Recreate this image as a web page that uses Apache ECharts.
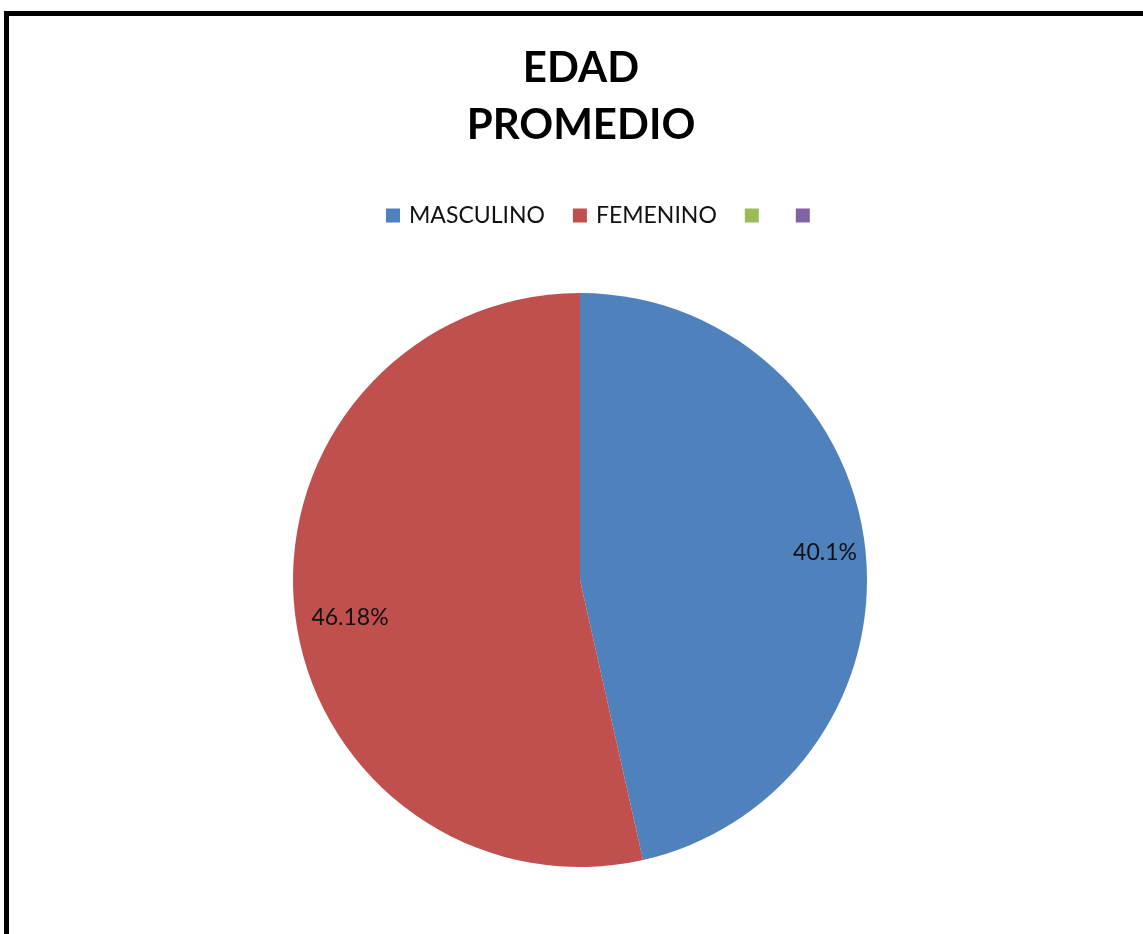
<!DOCTYPE html>
<html>
<head>
<meta charset="utf-8">
<script src="https://cdn.jsdelivr.net/npm/echarts@6/dist/echarts.min.js"></script>
<style>
html,body{margin:0;padding:0;background:#fff;}
#chart{width:1143px;height:934px;}
</style>
</head>
<body>
<div id="chart"></div>
<script>
const titleText = "EDAD\nPROMEDIO";
const categories = ["MASCULINO", "FEMENINO", "\u200b", "\u200b\u200b"];
const values = [40.1, 46.18, 0, 0];
const labels = ["40.1%", "46.18%", "", ""];
const colors = ["#4F81BD", "#C0504D", "#9BBB59", "#8064A2"];

const font = "Lato, 'Open Sans', sans-serif";
const chart = echarts.init(document.getElementById('chart'), null, {renderer: 'canvas'});

const mainData = categories.map((c, i) => ({
  name: c, value: values[i], itemStyle: {color: colors[i]}
}));
const labelData = categories.map((c, i) => ({
  name: c, value: values[i],
  label: i === 1
    ? {show: true, formatter: '\n' + labels[i], lineHeight: 20, padding: [0, 0, 0, 30]}
    : {show: labels[i] !== '', formatter: labels[i]}
}));

chart.setOption({
  animation: false,
  title: {
    text: titleText,
    left: 576,
    textAlign: 'center',
    top: 35,
    textStyle: {fontFamily: font, fontWeight: 'bold', fontSize: 42, lineHeight: 57, color: '#000'}
  },
  legend: {
    data: categories,
    left: 381,
    top: 199,
    itemWidth: 14,
    itemHeight: 14,
    itemGap: 28,
    icon: 'rect',
    textStyle: {fontFamily: font, fontSize: 23, color: '#111', padding: [0, 0, 0, 4]}
  },
  graphic: [{
    type: 'rect',
    shape: {x: 6.5, y: 13.5, width: 1300, height: 1100},
    style: {fill: 'none', stroke: '#000', lineWidth: 5},
    silent: true,
    z: 100
  }],
  series: [{
    type: 'pie',
    center: [580, 580],
    radius: [0, 287],
    startAngle: 90,
    clockwise: true,
    avoidLabelOverlap: false,
    label: {show: false},
    labelLine: {show: false},
    itemStyle: {borderWidth: 0},
    data: mainData
  }, {
    type: 'pie',
    center: [580, 580],
    radius: [200, 287],
    startAngle: 90,
    clockwise: true,
    silent: true,
    avoidLabelOverlap: false,
    itemStyle: {color: 'rgba(0,0,0,0)', borderWidth: 0},
    label: {position: 'inside', fontFamily: font, fontSize: 23, color: '#111'},
    labelLine: {show: false},
    emphasis: {disabled: true},
    data: labelData
  }]
});
</script>
</body>
</html>
